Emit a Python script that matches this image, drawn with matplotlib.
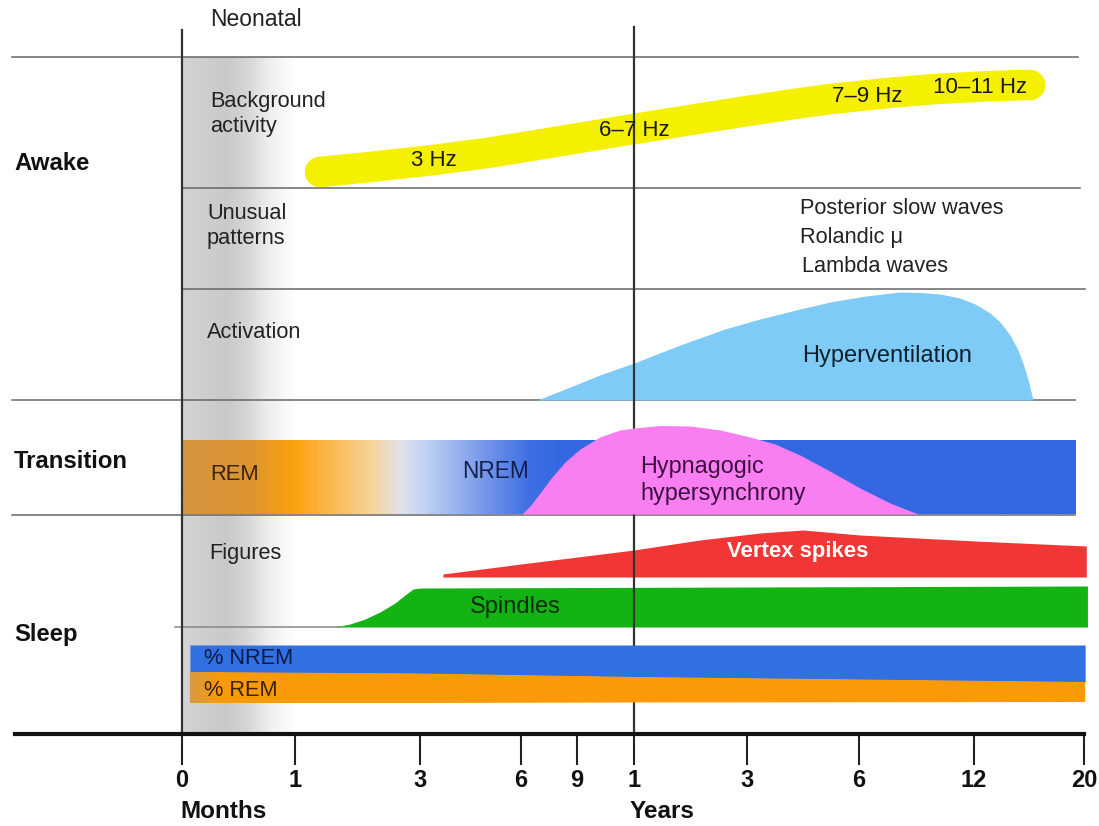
import numpy as np
import matplotlib.pyplot as plt
from matplotlib.colors import LinearSegmentedColormap
from matplotlib.patches import Polygon

plt.rcParams['font.family'] = ['Liberation Sans', 'DejaVu Sans']

# ---- age axis (months) ----
TICK_MONTHS = [0, 1, 3, 6, 9, 12, 36, 72, 144, 240]
TICK_LABELS = ['0', '1', '3', '6', '9', '1', '3', '6', '12', '20']
TICK_PX = [182, 295, 420, 521, 577, 634, 747, 859, 974, 1084]

# ---- awake: background rhythm frequency band ----
alpha_age = [1.4, 2.2, 3.4, 5.0, 7.5, 12, 20, 32, 50, 63, 90, 120, 160, 193]
alpha_y = [172, 167, 160, 153, 143, 129, 123, 114, 104.5, 99, 93, 89, 86, 85]
alpha_label_age = [3.4, 12, 77, 149]
alpha_labels = ['3 Hz', '6–7 Hz', '7–9 Hz', '10–11 Hz']

# ---- awake: hyperventilation response ----
hv_age = [6.86, 8.1, 10.2, 12, 21.8, 31.3, 40.2, 51.75, 62.7, 76.4, 97.7,
          110.2, 122.7, 135.2, 144.9, 158, 166.7, 175.4, 182.4, 187.6, 192,
          195.5]
hv_top = [400, 391, 375, 363, 345, 329, 319, 310, 302, 296, 292,
          292.5, 294, 298, 304, 313, 322, 335, 350, 366, 383, 400]

# ---- transition: hypnagogic hypersynchrony ----
hh_age = [6.05, 6.48, 7.02, 7.66, 8.36, 9.16, 10.2, 11.26, 12, 17.5, 23.9,
          30.3, 37, 45, 53, 62.6, 72.6, 91.4, 108.9]
hh_top = [514, 506, 493, 477, 462, 449, 437, 430, 428, 425.5, 426,
          430, 437, 444, 455, 471, 488, 503, 514]

# ---- sleep figures ----
vs_age = [3.68, 6, 12, 26, 40.2, 54, 72.6, 145, 242]
vs_top = [574, 564, 550, 540, 533, 530, 535, 541, 546]
sp_age = [1.64, 1.88, 2.12, 2.36, 2.6, 2.76, 2.89, 3, 243]
sp_top = [627, 624, 619, 612, 603, 595, 589, 588, 586]

# ---- sleep architecture: NREM / REM share ----
pct_age = [0.07, 3, 12, 241]
pct_split = [672, 673.5, 677, 682]
pct_bottom = [703, 703, 702.5, 702]


def age_x(m):
    m = np.atleast_1d(np.asarray(m, dtype=float))
    out = np.interp(m, TICK_MONTHS, TICK_PX)
    lo = m < TICK_MONTHS[0]
    hi = m > TICK_MONTHS[-1]
    s0 = (TICK_PX[1] - TICK_PX[0]) / (TICK_MONTHS[1] - TICK_MONTHS[0])
    s1 = (TICK_PX[-1] - TICK_PX[-2]) / (TICK_MONTHS[-1] - TICK_MONTHS[-2])
    out[lo] = TICK_PX[0] + (m[lo] - TICK_MONTHS[0]) * s0
    out[hi] = TICK_PX[-1] + (m[hi] - TICK_MONTHS[-1]) * s1
    return out


W, H = 1099, 826
fig = plt.figure(figsize=(W / 100, H / 100), dpi=100)
ax = fig.add_axes([0, 0, 1, 1])
ax.set_xlim(0, W)
ax.set_ylim(H, 0)
ax.set_facecolor('white')
for side in ('top', 'left', 'right'):
    ax.spines[side].set_visible(False)

x0 = age_x(0)[0]
x1y = age_x(12)[0]

# neonatal shading
grey_cmap = LinearSegmentedColormap.from_list('neo', [
    (0.0, (0.83, 0.83, 0.83)), (0.40, (0.79, 0.79, 0.79)),
    (0.58, (0.84, 0.84, 0.84)), (0.76, (0.93, 0.93, 0.93)),
    (1.0, (1, 1, 1))])
ax.imshow(np.linspace(0, 1, 256)[None, :], cmap=grey_cmap, aspect='auto',
          extent=(x0, 295, 734, 57), interpolation='bilinear', zorder=0)

# row separators
line_c = '#666666'
ax.axhline(57, xmin=12 / W, xmax=1078 / W, color=line_c, lw=1.1, zorder=1)
ax.axhline(188, xmin=x0 / W, xmax=1080 / W, color=line_c, lw=1.1, zorder=1)
ax.axhline(289, xmin=x0 / W, xmax=1085 / W, color=line_c, lw=1.1, zorder=1)
ax.axhline(400, xmin=12 / W, xmax=1075 / W, color=line_c, lw=1.1, zorder=1)
ax.axhline(515, xmin=12 / W, xmax=1075 / W, color=line_c, lw=1.1, zorder=1)
ax.axhline(627, xmin=175 / W, xmax=340 / W, color='#888888', lw=1.1, zorder=1)

# awake rows
ax.fill_between(age_x(hv_age), hv_top, 400, color='#7ecbf7', lw=0, zorder=2)
ax.plot(age_x(alpha_age), alpha_y, color='#f5f000', lw=22,
        solid_capstyle='round', solid_joinstyle='round', zorder=2)
for a, lab in zip(alpha_label_age, alpha_labels):
    ax.text(age_x(a)[0], np.interp(a, alpha_age, alpha_y) + 1, lab,
            fontsize=16, color='#1a1a1a', ha='center', va='center', zorder=6)

# sleep figures
ax.fill_between(age_x(vs_age), vs_top, 577, color='#f23535', lw=0, zorder=2)
ax.fill_between(age_x(sp_age), sp_top, 627, color='#12b312', lw=0, zorder=2)

# age reference lines
ax.plot([x0, x0], [30, 734], color='#333333', lw=1.6, zorder=4)
ax.plot([x1y, x1y], [27, 734], color='#333333', lw=1.6, zorder=2.5)

# transition: REM -> NREM gradient bar
stops_px = [182, 250, 293, 330, 370, 400, 420, 450, 490, 530, 560, 1076]
stops_rgb = [(212, 150, 64), (222, 148, 48), (252, 162, 12), (250, 185, 80),
             (245, 212, 152), (226, 226, 234), (200, 213, 245), (160, 185, 240),
             (110, 145, 234), (62, 110, 228), (52, 104, 226), (52, 104, 226)]
trans_cmap = LinearSegmentedColormap.from_list('trans', [
    ((p - 182) / (1076 - 182), tuple(c / 255 for c in rgb))
    for p, rgb in zip(stops_px, stops_rgb)])
ax.imshow(np.linspace(0, 1, 1024)[None, :], cmap=trans_cmap, aspect='auto',
          extent=(x0, 1076, 514, 440), interpolation='bilinear', zorder=3)
ax.fill_between(age_x(hh_age), hh_top, 514, color='#f87ef1', lw=0, zorder=3.5)

# sleep architecture bars
px = age_x(pct_age)
ax.fill_between(px, 645, pct_split, color='#3070e0', lw=0, zorder=3)
rem_poly = Polygon(np.column_stack([np.r_[px, px[::-1]],
                                    np.r_[pct_split, pct_bottom[::-1]]]),
                   closed=True, facecolor='#fb9a08', lw=0, zorder=3)
ax.add_patch(rem_poly)
rem_cmap = LinearSegmentedColormap.from_list('remedge', [
    (0, (0.84, 0.60, 0.27)), (1, (0.984, 0.604, 0.031))])
im = ax.imshow(np.linspace(0, 1, 64)[None, :], cmap=rem_cmap, aspect='auto',
               extent=(px[0], px[0] + 30, 704, 670), interpolation='bilinear',
               zorder=3.2)
im.set_clip_path(rem_poly)

# time axis
ax.spines['bottom'].set_position(('data', 734))
ax.spines['bottom'].set_bounds(15, 1084)
ax.spines['bottom'].set_linewidth(3)
ax.spines['bottom'].set_color('#111111')
ax.spines['bottom'].set_zorder(5)
ax.set_xticks(age_x(TICK_MONTHS), TICK_LABELS)
ax.tick_params(axis='x', direction='out', length=22, width=1.5, color='#222222',
               pad=3, labelsize=17, labelcolor='#111111')
for t in ax.get_xticklabels():
    t.set_fontweight('bold')
ax.set_yticks([])
ax.text(x0 - 2, 812, 'Months', fontsize=17.5, fontweight='bold', ha='left',
        va='center', color='#111111')
ax.text(x1y - 4, 812, 'Years', fontsize=17.5, fontweight='bold', ha='left',
        va='center', color='#111111')

# state labels
for y, lab in [(163, 'Awake'), (461, 'Transition'), (634, 'Sleep')]:
    ax.text(14, y, lab, fontsize=17.2, fontweight='bold', ha='left',
            va='center', color='#111111')

# row labels
txt = dict(fontsize=15.7, color='#222222', va='center', ha='left', zorder=6)
ax.text(210, 20, 'Neonatal', **{**txt, 'fontsize': 16.5})
ax.text(210, 114, 'Background\nactivity', linespacing=1.3, **txt)
ax.text(207, 226, 'Unusual\npatterns', linespacing=1.3, **txt)
ax.text(207, 333, 'Activation', **txt)
ax.text(209, 553, 'Figures', **txt)
ax.text(800, 208, 'Posterior slow waves', **txt)
ax.text(800, 238, 'Rolandic μ', **txt)
ax.text(802, 267, 'Lambda waves', **txt)
ax.text(802, 356, 'Hyperventilation', fontsize=17, color='#10202c',
        va='center', ha='left', zorder=6)
ax.text(210, 474, 'REM', fontsize=15.8, color='#3a2408', va='center', zorder=6)
ax.text(462, 471, 'NREM', fontsize=16.3, color='#13204a', va='center', zorder=6)
ax.text(640, 480, 'Hypnagogic\nhypersynchrony', fontsize=16.8, color='#3c0f3e',
        linespacing=1.22, va='center', ha='left', zorder=6)
ax.text(798, 552, 'Vertex spikes', fontsize=15.9, fontweight='bold',
        color='white', va='center', ha='center', zorder=6)
ax.text(470, 607, 'Spindles', fontsize=17, color='#0a2a0a', va='center',
        zorder=6)
ax.text(204, 658, '% NREM', fontsize=15.7, color='#0b1a42', va='center', zorder=6)
ax.text(204, 690, '% REM', fontsize=15.7, color='#3a2200', va='center', zorder=6)

fig.savefig('out.png', dpi=100)
